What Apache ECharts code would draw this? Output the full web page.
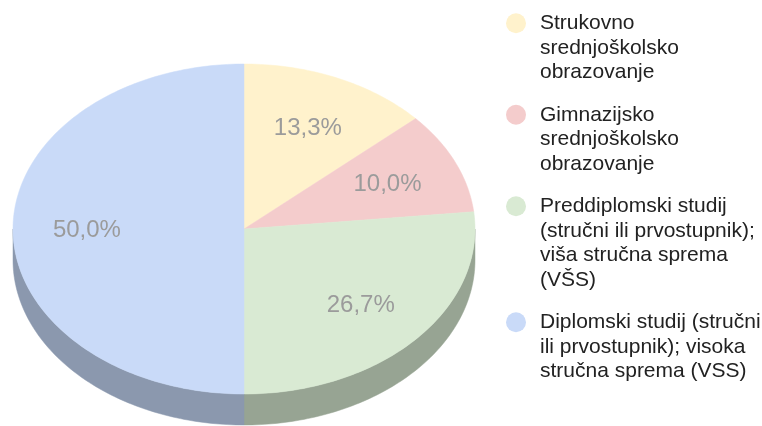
<!DOCTYPE html>
<html>
<head>
<meta charset="utf-8">
<script src="https://cdn.jsdelivr.net/npm/echarts@6/dist/echarts.min.js"></script>
<style>
  html, body { margin: 0; padding: 0; background: #fff; }
  #chart { width: 762px; height: 426px; }
</style>
</head>
<body>
<div id="chart"></div>
<script>
// data
var categories = [
  'Strukovno srednjoškolsko obrazovanje',
  'Gimnazijsko srednjoškolsko obrazovanje',
  'Preddiplomski studij (stručni ili prvostupnik); viša stručna sprema (VŠS)',
  'Diplomski studij (stručni ili prvostupnik); visoka stručna sprema (VSS)'
];
var legendLines = [
  ['Strukovno', 'srednjoškolsko', 'obrazovanje'],
  ['Gimnazijsko', 'srednjoškolsko', 'obrazovanje'],
  ['Preddiplomski studij', '(stručni ili prvostupnik);', 'viša stručna sprema', '(VŠS)'],
  ['Diplomski studij (stručni', 'ili prvostupnik); visoka', 'stručna sprema (VSS)']
];
var values = [4, 3, 8, 15];

// styles
var topColors = ['#fff2cc', '#f4cccc', '#d9ead3', '#c9daf8'];
var sideColors = ['#b0a78d', '#a88d8d', '#97a493', '#8b98ae'];

var total = values.reduce(function (a, b) { return a + b; }, 0);
var cx = 244, cy = 229, rx = 231, ry = 165, depth = 31, labelR = 0.68;
var lh = 24.5, legendX = 516, legendY = 23.3, legendGap = 42.5;

function pt(a, dy) {
  return [cx + rx * Math.sin(a), cy - ry * Math.cos(a) + (dy || 0)];
}

function arc(a0, a1, dy) {
  var pts = [];
  var n = Math.max(2, Math.ceil((a1 - a0) / (Math.PI / 180)));
  for (var k = 0; k <= n; k++) {
    pts.push(pt(a0 + (a1 - a0) * k / n, dy));
  }
  return pts;
}

function renderSlice(params, api) {
  var i = params.seriesIndex;
  var start = 0;
  for (var k = 0; k < i; k++) start += values[k];
  var v = api.value(0);
  var a0 = start / total * Math.PI * 2;
  var a1 = (start + v) / total * Math.PI * 2;
  var children = [];

  // side wall, only the front half shows
  var b0 = Math.max(a0, Math.PI / 2), b1 = Math.min(a1, Math.PI * 3 / 2);
  if (b1 > b0) {
    var side = arc(b0, b1, 0).concat(arc(b0, b1, depth).reverse());
    children.push({
      type: 'polygon',
      shape: { points: side },
      style: { fill: sideColors[i], stroke: sideColors[i], lineWidth: 0.5 }
    });
  }

  var top = [[cx, cy]].concat(arc(a0, a1, 0));
  children.push({
    type: 'polygon',
    shape: { points: top },
    style: { fill: topColors[i], stroke: topColors[i], lineWidth: 0.5 }
  });

  var mid = (a0 + a1) / 2;
  children.push({
    type: 'text',
    style: {
      text: (v / total * 100).toFixed(1).replace('.', ',') + '%',
      x: cx + rx * labelR * Math.sin(mid),
      y: cy - ry * labelR * Math.cos(mid) + 1.5,
      align: 'center',
      verticalAlign: 'middle',
      fontSize: 24,
      fontFamily: 'Arial',
      fill: '#9b9b9b'
    }
  });
  return { type: 'group', children: children };
}

// legend: dot lined up with the first text line
var legendItems = [];
var y = legendY;
categories.forEach(function (c, i) {
  legendItems.push({
    type: 'circle',
    shape: { cx: legendX, cy: y, r: 10 },
    style: { fill: topColors[i] }
  });
  legendItems.push({
    type: 'text',
    x: legendX + 24,
    y: y - lh / 2,
    style: {
      text: legendLines[i].join('\n'),
      fontSize: 21,
      lineHeight: lh,
      fontFamily: 'Arial',
      fill: '#222222',
      verticalAlign: 'top'
    }
  });
  y += (legendLines[i].length - 1) * lh + legendGap;
});

var myChart = echarts.init(document.getElementById('chart'));
var option = {
  backgroundColor: '#ffffff',
  animation: false,
  graphic: legendItems,
  series: categories.map(function (name, i) {
    return {
      type: 'custom',
      name: name,
      coordinateSystem: 'none',
      itemStyle: { color: topColors[i] },
      data: [values[i]],
      renderItem: renderSlice
    };
  })
};
myChart.setOption(option);
</script>
</body>
</html>
